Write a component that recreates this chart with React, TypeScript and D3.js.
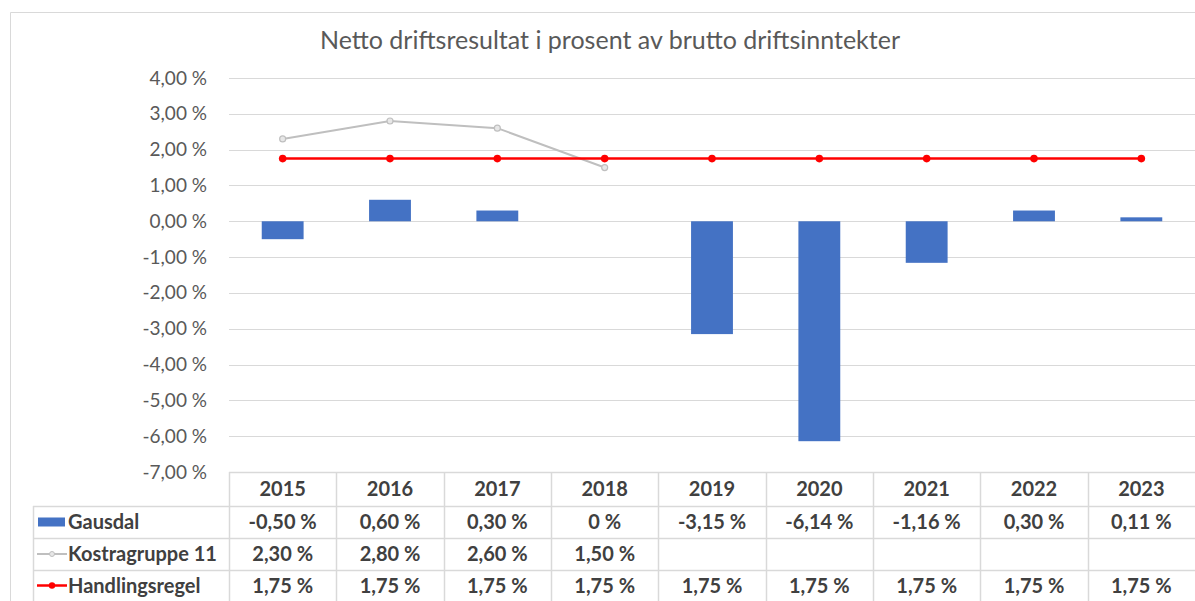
import React, { useEffect, useRef } from 'react';
import * as d3 from 'd3';

const years = ['2015', '2016', '2017', '2018', '2019', '2020', '2021', '2022', '2023'];
const gausdal = [-0.5, 0.6, 0.3, 0, -3.15, -6.14, -1.16, 0.3, 0.11];
const kostra: (number | null)[] = [2.3, 2.8, 2.6, 1.5, null, null, null, null, null];
const handlingsregel = [1.75, 1.75, 1.75, 1.75, 1.75, 1.75, 1.75, 1.75, 1.75];
const yTicks = [4, 3, 2, 1, 0, -1, -2, -3, -4, -5, -6, -7];

const W = 1195;
const H = 601;
const FONT = 'Lato, "Open Sans", sans-serif';

const fmtAxis = (v: number) => d3.format('.2f')(v).replace('.', ',').replace('−', '-') + ' %';
const fmtCell = (v: number) => (v === 0 ? '0 %' : fmtAxis(v));

export default function App() {
  const svgRef = useRef<SVGSVGElement>(null);

  useEffect(() => {
    if (!svgRef.current) return;
    const svg = d3.select(svgRef.current);
    svg.selectAll('*').remove();

    const plotLeft = 229;
    const plotRight = 1195;
    const plotTop = 78;
    const plotBottom = 472;
    const tableLeft = 33;
    const rowLines = [472, 506, 538, 570, 601];

    const x = d3.scaleBand<string>().domain(years).range([plotLeft, plotRight]).padding(0);
    const y = d3.scaleLinear().domain([-7, 4]).range([plotBottom, plotTop]);
    const cx = (d: string) => (x(d) || 0) + x.bandwidth() / 2;
    const barW = x.bandwidth() * 0.39;

    svg.append('rect').attr('width', W).attr('height', H).attr('fill', '#fff');

    // outer border
    svg.append('path')
      .attr('d', `M10.5,${H} V12.5 H${W}`)
      .attr('fill', 'none')
      .attr('stroke', '#d9d9d9');

    // title
    svg.append('text')
      .attr('x', 610)
      .attr('y', 49)
      .attr('text-anchor', 'middle')
      .style('font-family', FONT)
      .style('font-size', '25px')
      .style('fill', '#595959')
      .text('Netto driftsresultat i prosent av brutto driftsinntekter');

    // gridlines
    svg.append('g')
      .selectAll('line')
      .data(yTicks.filter(t => t !== -7))
      .enter()
      .append('line')
      .attr('x1', plotLeft)
      .attr('x2', plotRight)
      .attr('y1', d => Math.round(y(d)) + 0.5)
      .attr('y2', d => Math.round(y(d)) + 0.5)
      .attr('stroke', '#d9d9d9')
      .attr('stroke-width', 1.2);

    // y tick labels
    svg.append('g')
      .selectAll('text')
      .data(yTicks)
      .enter()
      .append('text')
      .attr('x', 207)
      .attr('y', d => y(d) + 6.5)
      .attr('text-anchor', 'end')
      .style('font-family', FONT)
      .style('font-size', '19px')
      .style('fill', '#595959')
      .text(d => fmtAxis(d));

    // bars
    svg.append('g')
      .selectAll('rect')
      .data(gausdal)
      .enter()
      .append('rect')
      .attr('x', (_, i) => cx(years[i]) - barW / 2)
      .attr('y', d => y(Math.max(0, d)))
      .attr('width', barW)
      .attr('height', d => Math.abs(y(d) - y(0)))
      .attr('fill', '#4472c4');

    // Kostragruppe line
    const kData = kostra
      .map((v, i) => ({ year: years[i], v }))
      .filter(d => d.v !== null) as { year: string; v: number }[];
    const line = d3.line<{ year: string; v: number }>()
      .x(d => cx(d.year))
      .y(d => y(d.v));
    svg.append('path')
      .datum(kData)
      .attr('d', line)
      .attr('fill', 'none')
      .attr('stroke', '#bfbfbf')
      .attr('stroke-width', 2);
    svg.append('g')
      .selectAll('circle')
      .data(kData)
      .enter()
      .append('circle')
      .attr('cx', d => cx(d.year))
      .attr('cy', d => y(d.v))
      .attr('r', 3)
      .attr('fill', '#e7e7e7')
      .attr('stroke', '#bfbfbf')
      .attr('stroke-width', 1.2);

    // Handlingsregel line
    const hData = handlingsregel.map((v, i) => ({ year: years[i], v }));
    svg.append('path')
      .datum(hData)
      .attr('d', line)
      .attr('fill', 'none')
      .attr('stroke', '#ff0000')
      .attr('stroke-width', 2.5);
    svg.append('g')
      .selectAll('circle')
      .data(hData)
      .enter()
      .append('circle')
      .attr('cx', d => cx(d.year))
      .attr('cy', d => y(d.v))
      .attr('r', 3.8)
      .attr('fill', '#ff0000');

    // data table
    const tg = svg.append('g');
    const grid = '#d9d9d9';
    rowLines.slice(0, 4).forEach((ly, i) => {
      tg.append('line')
        .attr('x1', i === 0 ? plotLeft : tableLeft)
        .attr('x2', plotRight)
        .attr('y1', ly + 0.5)
        .attr('y2', ly + 0.5)
        .attr('stroke', grid)
        .attr('stroke-width', 1.5);
    });
    tg.append('line')
      .attr('x1', tableLeft + 0.5).attr('x2', tableLeft + 0.5)
      .attr('y1', rowLines[1]).attr('y2', H)
      .attr('stroke', grid).attr('stroke-width', 1.5);
    years.forEach(yr => {
      const lx = Math.round(x(yr) || 0) + 0.5;
      tg.append('line')
        .attr('x1', lx).attr('x2', lx)
        .attr('y1', rowLines[0]).attr('y2', H)
        .attr('stroke', grid).attr('stroke-width', 1.5);
    });

    const rowMid = (r: number) => (rowLines[r] + rowLines[r + 1]) / 2 + 7;
    const txt = (sel: d3.Selection<SVGGElement, unknown, null, undefined>) =>
      sel.style('font-family', FONT).style('font-size', '20px').style('font-weight', 700).style('fill', '#404040');

    // header
    tg.append('g').call(txt)
      .selectAll('text')
      .data(years)
      .enter()
      .append('text')
      .attr('x', d => cx(d))
      .attr('y', rowMid(0))
      .attr('text-anchor', 'middle')
      .text(d => d);

    const series = [
      { name: 'Gausdal', values: gausdal as (number | null)[] },
      { name: 'Kostragruppe 11', values: kostra },
      { name: 'Handlingsregel', values: handlingsregel as (number | null)[] },
    ];

    series.forEach((s, si) => {
      const row = si + 1;
      const ym = rowMid(row);
      const g = tg.append('g').call(txt);
      g.selectAll('text.v')
        .data(s.values)
        .enter()
        .append('text')
        .attr('class', 'v')
        .attr('x', (_, i) => cx(years[i]))
        .attr('y', ym)
        .attr('text-anchor', 'middle')
        .text(d => (d === null ? '' : fmtCell(d)));
      g.append('text')
        .attr('x', 68)
        .attr('y', ym)
        .text(s.name);

      const ky = ym - 7;
      if (si === 0) {
        tg.append('rect').attr('x', 38).attr('y', ky - 4.5).attr('width', 27).attr('height', 9).attr('fill', '#4472c4');
      } else if (si === 1) {
        tg.append('line').attr('x1', 37).attr('x2', 67).attr('y1', ky).attr('y2', ky)
          .attr('stroke', '#bfbfbf').attr('stroke-width', 2);
        tg.append('circle').attr('cx', 52).attr('cy', ky).attr('r', 2.5)
          .attr('fill', '#e7e7e7').attr('stroke', '#bfbfbf');
      } else {
        tg.append('line').attr('x1', 37).attr('x2', 67).attr('y1', ky).attr('y2', ky)
          .attr('stroke', '#ff0000').attr('stroke-width', 2.5);
        tg.append('circle').attr('cx', 52).attr('cy', ky).attr('r', 3.2).attr('fill', '#ff0000');
      }
    });
  }, []);

  return (
    <svg
      ref={svgRef}
      width={W}
      height={H}
      style={{ position: 'absolute', left: 0, top: 0, display: 'block' }}
    />
  );
}
